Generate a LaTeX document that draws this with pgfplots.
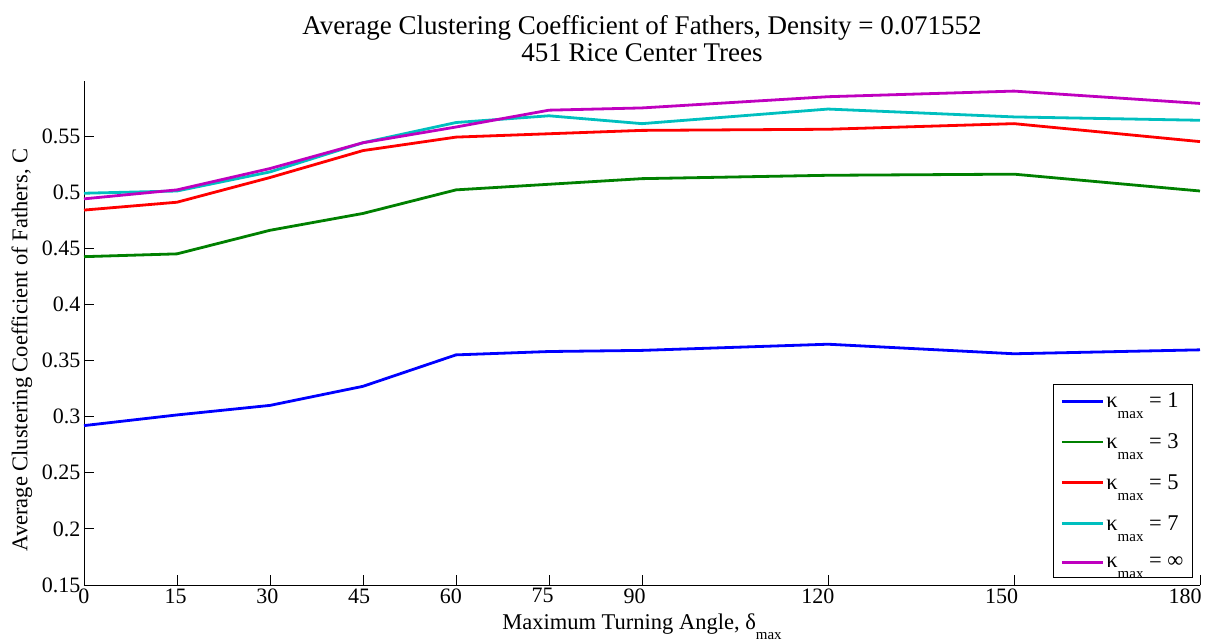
\documentclass[border=0pt]{standalone}
\usepackage{fontspec}
\setmainfont{Liberation Serif}
\usepackage{pgfplots}
\pgfplotsset{compat=1.18}

\definecolor{mblue}{rgb}{0,0,1}
\definecolor{mgreen}{rgb}{0,0.5,0}
\definecolor{mred}{rgb}{1,0,0}
\definecolor{mcyan}{rgb}{0,0.75,0.75}
\definecolor{mmagenta}{rgb}{0.75,0,0.75}

\newcommand{\kmax}{κ\raisebox{-11pt}{\fontsize{15}{15}\selectfont max}}

\begin{document}
\begin{tikzpicture}
\begin{axis}[
  name=ax,
  scale only axis, width=1116pt, height=504pt,
  xmin=0, xmax=180, ymin=0.15, ymax=0.599,
  xtick={0,15,30,45,60,75,90,120,150,180},
  ytick={0.15,0.2,0.25,0.3,0.35,0.4,0.45,0.5,0.55},
  scaled y ticks=false,
  axis x line*=bottom, axis y line*=left,
  axis line style={-, line width=0.9pt},
  tick align=inside, major tick length=10pt,
  tick style={line width=0.9pt, black},
  ticklabel style={font=\fontsize{22}{26}\selectfont},
  /pgf/number format/assume math mode=true,
  yticklabel style={/pgf/number format/fixed, /pgf/number format/precision=2},
  xticklabel={\pgfmathparse{-0.1667*\tick}\hspace*{\pgfmathresult pt}\pgfmathprintnumber{\tick}},
  xlabel={Maximum Turning Angle, δ\raisebox{-10pt}{\fontsize{15}{15}\selectfont max}},
  xlabel style={at={(axis description cs:0.5,0)}, anchor=base, yshift=-45pt, font=\fontsize{22.5}{26}\selectfont},
  ylabel={Average Clustering Coefficient of Fathers, C},
  ylabel style={at={(axis description cs:-0.0556,0.466)}, anchor=center, font=\fontsize{22.5}{26}\selectfont},
  every axis plot/.append style={line width=2.8pt},
  legend image code/.code={\draw[#1, line width=2.8pt] (0pt,0pt) -- (41pt,0pt);},
  legend cell align=left,
  legend style={at={(0.9937,0.0139)}, anchor=south east, draw=black, line width=0.9pt,
    font=\fontsize{22.5}{22.5}\selectfont, inner xsep=7pt, inner ysep=7pt,
    nodes={inner sep=2pt}, row sep=20.5pt},
]
\addplot[mblue] coordinates {(0,0.292)(15,0.3015)(30,0.310)(45,0.327)(60,0.355)(75,0.358)(90,0.359)(120,0.3645)(150,0.356)(180,0.3595)};
\addlegendentry{\kmax{} = 1}
\addplot[mgreen] coordinates {(0,0.4425)(15,0.445)(30,0.466)(45,0.481)(60,0.502)(75,0.507)(90,0.512)(120,0.515)(150,0.516)(180,0.501)};
\addlegendentry{\kmax{} = 3}
\addplot[mred] coordinates {(0,0.484)(15,0.491)(30,0.513)(45,0.537)(60,0.549)(75,0.552)(90,0.555)(120,0.556)(150,0.561)(180,0.545)};
\addlegendentry{\kmax{} = 5}
\addplot[mcyan] coordinates {(0,0.499)(15,0.501)(30,0.518)(45,0.544)(60,0.562)(75,0.568)(90,0.561)(120,0.574)(150,0.567)(180,0.564)};
\addlegendentry{\kmax{} = 7}
\addplot[mmagenta] coordinates {(0,0.494)(15,0.502)(30,0.521)(45,0.544)(60,0.558)(75,0.573)(90,0.575)(120,0.585)(150,0.590)(180,0.579)};
\addlegendentry{\kmax{} = ∞}
\end{axis}
\node[anchor=base, yshift=46pt, font=\fontsize{27}{30}\selectfont] at (ax.north) {Average Clustering Coefficient of Fathers, Density = 0.071552};
\node[anchor=base, yshift=19pt, font=\fontsize{27}{30}\selectfont] at (ax.north) {451 Rice Center Trees};
\pgfresetboundingbox
\path[use as bounding box] (-84pt,-57pt) rectangle (1134pt,585pt);
\end{tikzpicture}
\end{document}
